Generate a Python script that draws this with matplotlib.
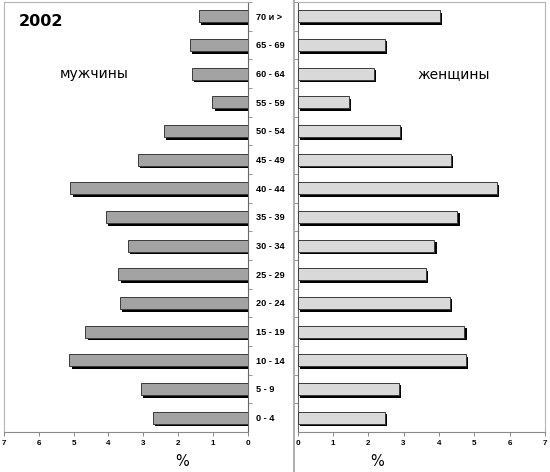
import matplotlib
matplotlib.use('Agg')
import matplotlib.pyplot as plt
import matplotlib.patheffects as pe
from matplotlib.lines import Line2D
import numpy as np

# data
age_groups = ['0 - 4', '5 - 9', '10 - 14', '15 - 19', '20 - 24', '25 - 29', '30 - 34',
              '35 - 39', '40 - 44', '45 - 49', '50 - 54', '55 - 59', '60 - 64',
              '65 - 69', '70 и >']
men = [2.73, 3.07, 5.12, 4.66, 3.66, 3.71, 3.44, 4.06, 5.09, 3.15, 2.41, 1.01, 1.59, 1.65, 1.39]
women = [2.47, 2.87, 4.76, 4.72, 4.31, 3.63, 3.87, 4.52, 5.65, 4.34, 2.90, 1.45, 2.17, 2.47, 4.03]
x_ticks = [0, 1, 2, 3, 4, 5, 6, 7]

W, H = 550, 472
fig = plt.figure(figsize=(W / 100, H / 100), dpi=100)

def px(x0, y0, x1, y1):
    # pixel box (top-left origin) -> figure fraction rect
    return [x0 / W, 1 - y1 / H, (x1 - x0) / W, (y1 - y0) / H]

ax_m = fig.add_axes(px(4, 2, 247.5, 432))
ax_w = fig.add_axes(px(297.5, 2, 545, 432))

shadow = [pe.SimplePatchShadow(offset=(1.6, -1.8), shadow_rgbFace='black', alpha=1.0), pe.Normal()]
y = np.arange(len(age_groups))

ax_m.barh(y, men, height=0.42, color='#a3a3a3', edgecolor='#3a3a3a', linewidth=0.7,
          path_effects=shadow, zorder=3)
ax_w.barh(y, women, height=0.42, color='#d9d9d9', edgecolor='#3a3a3a', linewidth=0.7,
          path_effects=shadow, zorder=3)

for ax in (ax_m, ax_w):
    ax.set_ylim(-0.5, len(age_groups) - 0.5)
    ax.set_xticks(x_ticks)
    ax.set_xticklabels([str(t) for t in x_ticks], fontsize=5.8, fontweight='bold',
                       family='Liberation Sans')
    ax.tick_params(axis='x', length=3, width=0.7, color='#888888', pad=2.5)
    ax.set_yticks(y + 0.5, minor=True)
    ax.tick_params(axis='y', which='minor', length=3, width=0.6, color='#888888')
    ax.spines['top'].set_color('#b5b5b5')
    ax.spines['bottom'].set_color('#8a8a8a')

ax_m.set_xlim(7, 0)
ax_w.set_xlim(0, 7)

# men: age labels on the right side
ax_m.yaxis.tick_right()
ax_m.set_yticks(y)
ax_m.set_yticklabels(age_groups, fontsize=6.6, fontweight='bold', family='Liberation Sans')
ax_m.tick_params(axis='y', which='major', length=0, pad=6)
for lab in ax_m.get_yticklabels():
    lab.set_horizontalalignment('left')
ax_m.spines['left'].set_color('#b5b5b5')
ax_m.spines['right'].set_color('#666666')

ax_w.set_yticks([])
ax_w.set_yticks(y + 0.5, minor=True)
ax_w.spines['right'].set_color('#b5b5b5')
ax_w.spines['left'].set_color('#666666')

fig.add_artist(Line2D([294 / W, 294 / W], [0, 1], color='#a8a8a8', lw=1.3))

fig.text(19 / W, 1 - 22 / H, '2002', fontsize=11.5, fontweight='bold', va='center', ha='left')
fig.text(94.5 / W, 1 - 74 / H, 'мужчины', fontsize=10, va='center', ha='center')
fig.text(454 / W, 1 - 74 / H, 'женщины', fontsize=10, va='center', ha='center')
fig.text(182 / W, 1 - 461 / H, '%', fontsize=10.5, va='center', ha='center')
fig.text(377 / W, 1 - 461 / H, '%', fontsize=10.5, va='center', ha='center')

fig.savefig('out.png', dpi=100)
